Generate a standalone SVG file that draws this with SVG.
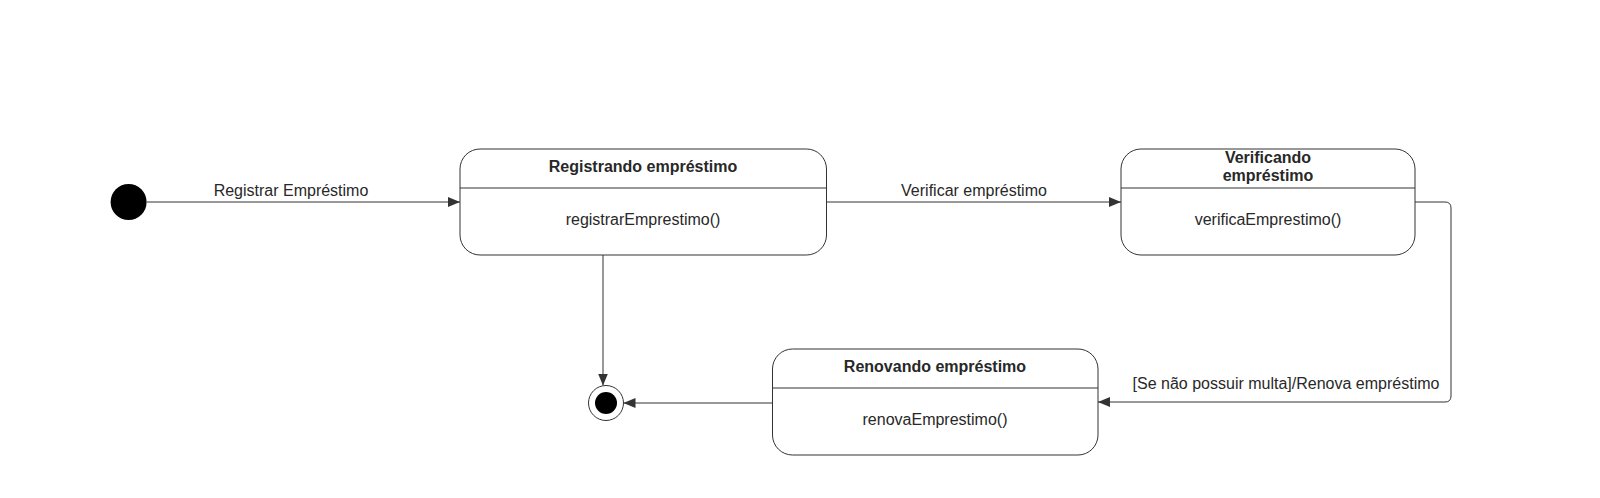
<svg xmlns="http://www.w3.org/2000/svg" width="1600" height="498" viewBox="0 0 1600 498">
<style>
.box{fill:#ffffff;stroke:#333333;stroke-width:1}
.div{stroke:#333333;stroke-width:1}
.t{font-family:"Liberation Sans",Arial,sans-serif;font-size:16px;fill:#282828;text-anchor:middle}
.b{font-weight:bold}
.c{fill:none;stroke:#333333;stroke-width:1}
</style>
<defs>
<marker id="arr" viewBox="0 0 12 10" refX="12" refY="5" markerWidth="12" markerHeight="10" markerUnits="userSpaceOnUse" orient="auto">
<path d="M0,0 L12,5 L0,10 Z" fill="#333333"/>
</marker>
</defs>
<rect width="1600" height="498" fill="#ffffff"/>
<g id="connectors">
<line class="c" x1="147" y1="202" x2="460" y2="202" marker-end="url(#arr)"/>
<text class="t" x="291" y="196">Registrar Empréstimo</text>
<line class="c" x1="826.5" y1="202" x2="1121" y2="202" marker-end="url(#arr)"/>
<text class="t" x="974" y="196">Verificar empréstimo</text>
<path class="c" d="M1415,202 L1445,202 Q1451,202 1451,208 L1451,396 Q1451,402 1445,402 L1098,402" marker-end="url(#arr)"/>
<text class="t" x="1286" y="389">[Se não possuir multa]/Renova empréstimo</text>
<line class="c" x1="603" y1="255" x2="603" y2="385.5" marker-end="url(#arr)"/>
<line class="c" x1="772.5" y1="403" x2="623.5" y2="403" marker-end="url(#arr)"/>
</g>
<g id="start">
<circle cx="128.6" cy="202" r="18" fill="#000000"/>
</g>
<g id="registrando">
<rect class="box" x="460" y="149" width="366.5" height="106" rx="20" ry="20"/>
<line class="div" x1="460" y1="188" x2="826.5" y2="188"/>
<text class="t b" x="643" y="172">Registrando empréstimo</text>
<text class="t" x="643" y="225">registrarEmprestimo()</text>
</g>
<g id="verificando">
<rect class="box" x="1121" y="149" width="294" height="106" rx="20" ry="20"/>
<line class="div" x1="1121" y1="188" x2="1415" y2="188"/>
<text class="t b" x="1268" y="163">Verificando</text>
<text class="t b" x="1268" y="181">empréstimo</text>
<text class="t" x="1268" y="225">verificaEmprestimo()</text>
</g>
<g id="renovando">
<rect class="box" x="772.5" y="349" width="325.5" height="106" rx="20" ry="20"/>
<line class="div" x1="772.5" y1="388" x2="1098" y2="388"/>
<text class="t b" x="935" y="372">Renovando empréstimo</text>
<text class="t" x="935" y="425">renovaEmprestimo()</text>
</g>
<g id="final">
<circle cx="606" cy="403" r="17.5" fill="#ffffff" stroke="#333333" stroke-width="1"/>
<circle cx="606" cy="403" r="11" fill="#000000"/>
</g>
</svg>
